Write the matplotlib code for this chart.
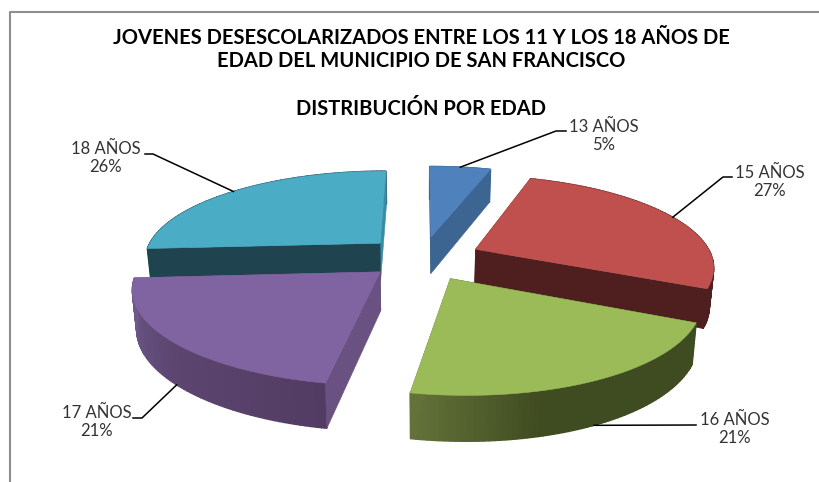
import matplotlib
matplotlib.use("Agg")
import matplotlib.pyplot as plt
import numpy as np

# Values
edades = ["13 AÑOS", "15 AÑOS", "16 AÑOS", "17 AÑOS", "18 AÑOS"]
porcentajes = [5, 27, 21, 21, 26]
titulo = ["JOVENES DESESCOLARIZADOS ENTRE LOS 11 Y LOS 18 AÑOS DE",
          "EDAD DEL MUNICIPIO DE SAN FRANCISCO",
          "DISTRIBUCIÓN POR EDAD"]

# Colours
top_colors = ["#4f81bd", "#c0504d", "#9bbb59", "#8064a2", "#4bacc6"]
wall_colors = [("#3d6592", "#3d6592"), ("#4f1f1f", "#4f1f1f"), ("#3f4b20", "#63723a"),
               ("#695282", "#695282"), ("#1f444f", "#3a8ba5")]
# arc side shading, from the first angle of the slice to the last
arc_colors = [["#3d6592", "#3d6592"], ["#4f1f1f", "#4f1f1f"],
              ["#3f4b20", "#3f4b20", "#3f4b20", "#63723a"],
              ["#533c63", "#5c4670", "#6f5a8d"], ["#1f444f", "#1f444f"]]
draw_order = [0, 4, 1, 3, 2]

# Label placement in pixels: elbow of the leader, end of the leader, text centre
elbows = [(556, 131), (723, 177), (696, 425), (142, 418), (153, 154)]
ends = [(566, 131), (732, 177), (696, 425), (133, 418), (145, 154)]
label_pos = [(604, 136), (770, 182), (735, 429), (97, 422), (106, 158)]

# Projection of the tilted pie
CX, CY = 422, 258
RX, RY = 237, 89
PERSP = 0.17
DEPTH = 38
SHEAR = 7
explode = [0.25, 0.25, 0.25, 0.23, 0.25]


def project(x, y, z=0.0):
    x = np.asarray(x)
    y = np.asarray(y)
    s = 1 / (1 - PERSP * y)
    shrink = 1 - 0.015 * z
    sx = CX + RX * x * s * shrink + SHEAR * np.clip(y, 0, None) ** 2
    return sx, CY + RY * y * s * shrink + DEPTH * s * z


def hex_rgb(c):
    return np.array(matplotlib.colors.to_rgb(c))


def draw_wedge(ax, t0, t1, e, top, walls, arc):
    mid = (t0 + t1) / 2
    ox, oy = e * np.sin(mid), -e * np.cos(mid)
    t = np.linspace(t0, t1, 70)
    xs = ox + np.sin(t)
    ys = oy - np.cos(t)

    # outer side, as thin strips so that it can carry the gradient
    stops = np.linspace(0, 1, len(arc))
    rgb = np.array([hex_rgb(c) for c in arc])
    for i in range(len(t) - 1):
        f = i / (len(t) - 2)
        col = [np.interp(f, stops, rgb[:, k]) for k in range(3)]
        xa, ya = project(xs[i:i + 2], ys[i:i + 2])
        xb, yb = project(xs[i:i + 2], ys[i:i + 2], 1.0)
        ax.fill(np.r_[xa, xb[::-1]], np.r_[ya, yb[::-1]], color=col, lw=1.0)

    # the two cut faces, the one further back first
    faces = [(xs[0], ys[0], walls[0]), (xs[-1], ys[-1], walls[1])]
    faces.sort(key=lambda f: f[1])
    for fx, fy, col in faces:
        px = np.array([ox, fx])
        py = np.array([oy, fy])
        xa, ya = project(px, py)
        xb, yb = project(px, py, 1.0)
        ax.fill(np.r_[xa, xb[::-1]], np.r_[ya, yb[::-1]], color=col, lw=0.4)

    # top face
    xa, ya = project(np.r_[ox, xs], np.r_[oy, ys])
    ax.fill(xa, ya, color=top, lw=0.4)


def main():
    plt.rcParams["font.family"] = ["Lato", "DejaVu Sans"]
    fig = plt.figure(figsize=(8.2, 4.82), dpi=100)
    ax = fig.add_axes([0, 0, 1, 1])
    ax.set_xlim(0, 820)
    ax.set_ylim(482, 0)
    ax.axis("off")

    # chart frame
    ax.plot([10, 10, 820], [482, 12, 12], color="#8e8e8e", lw=1.5)

    for line, y in zip(titulo, [38, 61, 109]):
        ax.text(421, y, line, ha="center", va="center", fontsize=14.5,
                fontweight="bold", color="black")

    fracs = np.array(porcentajes) / sum(porcentajes)
    edges = np.r_[0, np.cumsum(fracs)] * 2 * np.pi

    for i in draw_order:
        draw_wedge(ax, edges[i], edges[i + 1], explode[i], top_colors[i], wall_colors[i], arc_colors[i])

    # leader lines start on the rim of each slice, at its middle angle
    for i in range(len(edades)):
        mid = (edges[i] + edges[i + 1]) / 2
        x = (1 + explode[i]) * np.sin(mid)
        y = -(1 + explode[i]) * np.cos(mid)
        sx, sy = project(x, y, 1.0 if -np.cos(mid) > 0 else 0.0)
        ax.plot([sx, elbows[i][0], ends[i][0]], [sy, elbows[i][1], ends[i][1]],
                color="black", lw=1.1)
        ax.text(label_pos[i][0], label_pos[i][1], "%s\n%d%%" % (edades[i], porcentajes[i]),
                ha="center", va="center", fontsize=12, color="#333333", linespacing=1.2)

    fig.savefig("out.png", dpi=100)


if __name__ == "__main__":
    main()
